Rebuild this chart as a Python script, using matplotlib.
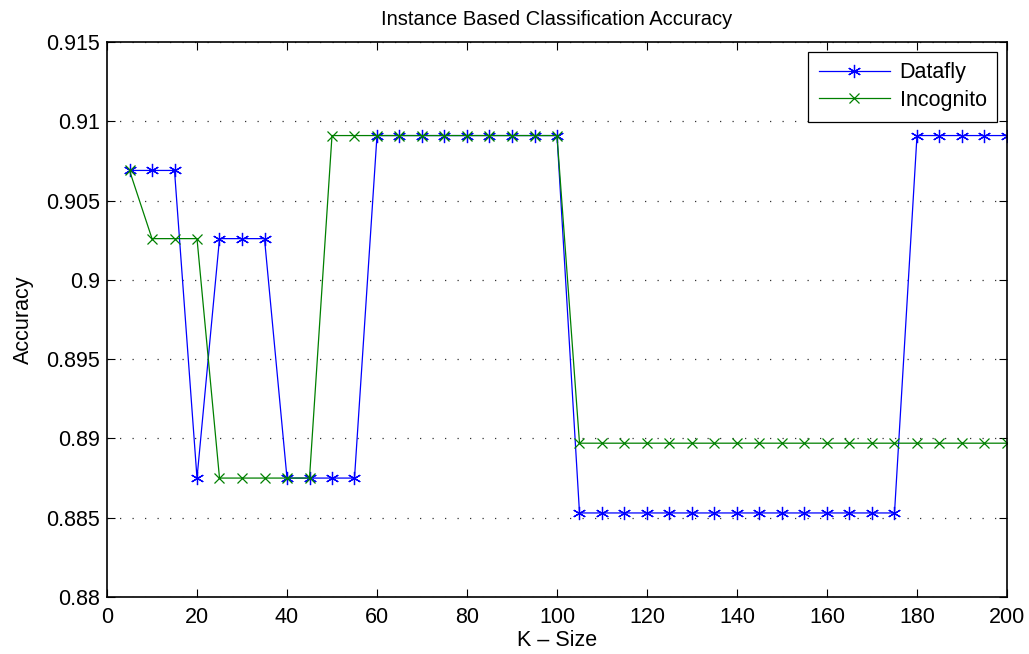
import matplotlib
matplotlib.use('Agg')
import matplotlib.pyplot as plt
import numpy as np

plt.rcParams['font.family'] = ['Liberation Sans', 'DejaVu Sans']

# K sizes 5..200
k_size = [5, 10, 15, 20, 25, 30, 35, 40, 45, 50,
          55, 60, 65, 70, 75, 80, 85, 90, 95, 100,
          105, 110, 115, 120, 125, 130, 135, 140, 145, 150,
          155, 160, 165, 170, 175, 180, 185, 190, 195, 200]

datafly = [0.9069, 0.9069, 0.9069, 0.8875, 0.9026, 0.9026, 0.9026, 0.8875, 0.8875, 0.8875,
           0.8875, 0.9091, 0.9091, 0.9091, 0.9091, 0.9091, 0.9091, 0.9091, 0.9091, 0.9091,
           0.8853, 0.8853, 0.8853, 0.8853, 0.8853, 0.8853, 0.8853, 0.8853, 0.8853, 0.8853,
           0.8853, 0.8853, 0.8853, 0.8853, 0.8853, 0.9091, 0.9091, 0.9091, 0.9091, 0.9091]

incognito = [0.9069, 0.9026, 0.9026, 0.9026, 0.8875, 0.8875, 0.8875, 0.8875, 0.8875, 0.9091,
             0.9091, 0.9091, 0.9091, 0.9091, 0.9091, 0.9091, 0.9091, 0.9091, 0.9091, 0.9091,
             0.8897, 0.8897, 0.8897, 0.8897, 0.8897, 0.8897, 0.8897, 0.8897, 0.8897, 0.8897,
             0.8897, 0.8897, 0.8897, 0.8897, 0.8897, 0.8897, 0.8897, 0.8897, 0.8897, 0.8897]

y_ticks = [0.88, 0.885, 0.89, 0.895, 0.9, 0.905, 0.91, 0.915]
y_labels = ['0.88', '0.885', '0.89', '0.895', '0.9', '0.905', '0.91', '0.915']

fig = plt.figure(figsize=(10.29, 6.54), dpi=100)
ax = fig.add_axes([107 / 1029, 1 - 597 / 654, 900 / 1029, 555 / 654])

ax.plot(k_size, datafly, color='#0000ff', marker=(6, 2, 0), markersize=9.5,
        markeredgewidth=0.9, linewidth=0.9, label='Datafly')
ax.plot(k_size, incognito, color='#008000', marker='x', markersize=6.5,
        markeredgewidth=0.9, linewidth=0.9, label='Incognito')

ax.set_xlim(0, 200)
ax.set_ylim(0.88, 0.915)
ax.set_xticks(np.arange(0, 201, 20))
ax.set_yticks(y_ticks)
ax.set_yticklabels(y_labels)
ax.tick_params(direction='in', top=True, right=True, labelsize=15.5, length=6, width=0.8)
ax.tick_params(axis='x', pad=7)
ax.tick_params(axis='y', pad=5)
ax.grid(axis='y', linestyle=(0, (1, 9)), color='#333333', linewidth=0.9)

for s in ax.spines.values():
    s.set_linewidth(1.2)

ax.set_title('Instance Based Classification Accuracy', fontsize=14.5, pad=12)
ax.set_xlabel('K \u2013 Size', fontsize=15.5, labelpad=2)
ax.set_ylabel('Accuracy', fontsize=15.5, labelpad=9)

leg = ax.legend(loc='upper right', fontsize=15.5, fancybox=False, edgecolor='black',
                framealpha=1, handlelength=3.3, borderaxespad=0.45, borderpad=0.5,
                labelspacing=0.3, handletextpad=0.45)
leg.get_frame().set_linewidth(0.9)

fig.savefig('out.png', dpi=100)
